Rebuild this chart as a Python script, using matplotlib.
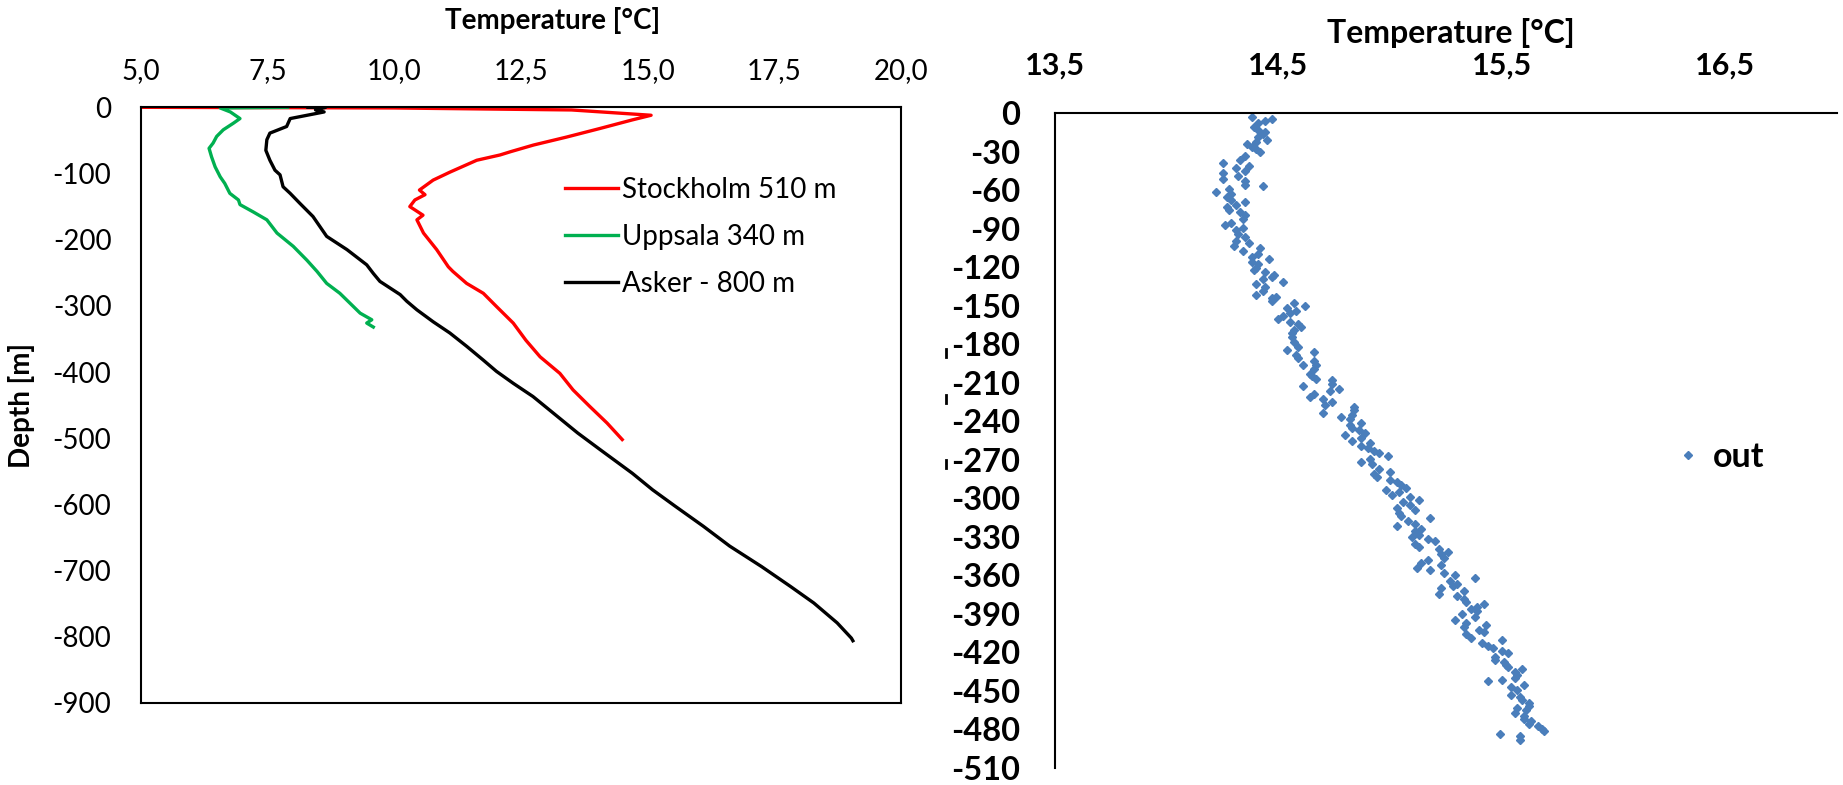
"""Borehole temperature profiles: three wells plus the measured 'out' log."""

import matplotlib.pyplot as plt
from matplotlib.lines import Line2D
from matplotlib.ticker import FixedLocator, FuncFormatter

plt.rcParams['font.family'] = ['Lato', 'DejaVu Sans']
plt.rcParams['axes.unicode_minus'] = False

# Left panel: temperature (°C) against depth (m) for each well
stockholm_t = [5.0, 10.0, 13.5, 15.07, 14.7, 14.06, 13.4, 12.75, 12.3, 12.09,
               11.63, 11.1, 10.77, 10.5, 10.61, 10.41, 10.31, 10.57, 10.45,
               10.58, 10.84, 11.07, 11.16, 11.43, 11.76, 12.02, 12.35, 12.6,
               12.88, 13.27, 13.53, 13.86, 14.2, 14.5]
stockholm_d = [0, -1, -4, -12, -19, -32, -45, -57, -67, -72,
               -80, -98, -110, -125, -132, -140, -150, -163, -170,
               -190, -215, -241, -248, -266, -281, -301, -326, -352,
               -377, -402, -427, -452, -477, -502]

uppsala_t = [7.9, 6.57, 6.77, 6.96, 6.83, 6.63, 6.5, 6.43, 6.35, 6.4, 6.47,
             6.57, 6.66, 6.76, 6.93, 6.96, 7.22, 7.49, 7.69, 8.01, 8.28, 8.48,
             8.67, 8.93, 9.13, 9.33, 9.56, 9.46, 9.59]
uppsala_d = [0, -1, -7, -17, -24, -34, -44, -54, -62, -75, -90,
             -105, -115, -130, -140, -147, -158, -170, -190, -210, -231, -248,
             -266, -281, -296, -311, -321, -326, -332]

asker_t = [8.3, 8.65, 8.45, 8.62, 7.95, 7.88, 7.55, 7.49, 7.47, 7.55, 7.65,
           7.75, 7.81, 7.95, 8.14, 8.4, 8.67, 9.07, 9.46, 9.59, 9.72, 10.12,
           10.25, 10.45, 10.77, 11.1, 11.43, 11.76, 12.02, 12.35, 12.74, 13.3,
           13.62, 14.06, 14.7, 15.1, 15.55, 16.1, 16.62, 17.25, 17.82, 18.28,
           18.74, 19.02, 19.05]
asker_d = [0, 0, -4, -7, -17, -29, -39, -49, -65, -80, -95,
           -102, -120, -130, -145, -165, -195, -215, -238, -251, -263, -283,
           -293, -306, -324, -341, -361, -382, -399, -417, -437, -472,
           -492, -517, -553, -578, -603, -633, -663, -694, -724, -749,
           -779, -802, -806]

# Right panel: logged temperatures of the 'out' borehole
out_t = [14.38, 14.47, 14.44, 14.41, 14.39, 14.41, 14.44, 14.43, 14.41, 14.45,
         14.40, 14.36, 14.38, 14.40, 14.42, 14.35, 14.33, 14.25, 14.37, 14.31,
         14.35, 14.25, 14.32, 14.25, 14.35, 14.35, 14.43, 14.28, 14.22, 14.29,
         14.27, 14.29, 14.35, 14.31, 14.27, 14.28, 14.33, 14.35, 14.34, 14.29,
         14.26, 14.34, 14.31, 14.32, 14.35, 14.31, 14.37, 14.30, 14.42, 14.34,
         14.41, 14.38, 14.46, 14.38, 14.41, 14.40, 14.39, 14.44, 14.48, 14.47,
         14.43, 14.52, 14.40, 14.44, 14.43, 14.40, 14.49, 14.47,
         14.47, 14.57, 14.62, 14.54, 14.58, 14.55, 14.52, 14.50, 14.55, 14.59,
         14.60, 14.57, 14.56, 14.56, 14.57, 14.59, 14.54, 14.66, 14.58, 14.59,
         14.66, 14.61, 14.67, 14.66, 14.64, 14.65, 14.67, 14.74, 14.74, 14.61,
         14.77, 14.73, 14.66, 14.64, 14.70, 14.74, 14.71, 14.84, 14.84, 14.70,
         14.83, 14.78, 14.82, 14.87, 14.82, 14.83, 14.86, 14.89, 14.80, 14.87,
         14.83, 14.91, 14.87, 14.90, 14.93, 14.95, 14.99, 14.91, 14.87, 14.92,
         14.95, 15.00, 14.93, 14.94,
         15.00, 15.03, 15.05, 15.07, 14.98, 15.04, 15.01, 15.09, 15.13, 15.06,
         15.09, 15.03, 15.11, 15.04, 15.05, 15.18, 15.08, 15.11, 15.03, 15.14,
         15.11, 15.13, 15.10, 15.17, 15.20, 15.11, 15.13, 15.22, 15.26, 15.23,
         15.24, 15.17, 15.14, 15.23, 15.12, 15.18, 15.24, 15.29, 15.38, 15.27,
         15.30, 15.28, 15.23, 15.33, 15.22, 15.30, 15.33, 15.34, 15.42, 15.39,
         15.36, 15.39, 15.32, 15.38, 15.29, 15.34, 15.43, 15.33, 15.40, 15.42,
         15.34,
         15.36, 15.50, 15.41, 15.44, 15.46, 15.50, 15.53, 15.47, 15.47, 15.51,
         15.52, 15.53, 15.59, 15.56, 15.57, 15.56, 15.50, 15.44, 15.60, 15.54,
         15.57, 15.54, 15.58, 15.59, 15.62, 15.62, 15.57, 15.61, 15.56, 15.60,
         15.60, 15.63, 15.62, 15.66, 15.68, 15.69, 15.49, 15.58, 15.58]
out_d = [-2.6, -4.4, -6.0, -7.8, -10.4, -12.9, -14.3, -16.3, -18.1, -20.5,
         -22.0, -24.0, -25.9, -27.7, -30.5, -32.9, -36.2, -38.8, -40.9, -42.6,
         -45.3, -46.5, -48.6, -50.9, -53.0, -55.6, -56.9, -58.7, -61.2, -62.8,
         -65.4, -67.2, -69.0, -71.1, -73.2, -75.7, -76.7, -79.4, -82.7, -85.3,
         -87.1, -89.1, -91.2, -93.8, -96.4, -99.5, -100.8, -103.4, -105.2, -107.3,
         -109.8, -111.9, -113.5, -115.5, -117.6, -120.2, -122.0, -123.3, -125.9, -127.4,
         -129.2, -131.8, -133.1, -135.7, -138.8, -141.4, -142.9, -144.0,
         -146.0, -147.8, -149.9, -151.7, -154.0, -155.8, -157.7, -160.2, -162.3, -164.1,
         -166.4, -168.5, -171.3, -174.4, -177.8, -182.2, -184.3, -186.0, -188.1, -190.7,
         -192.6, -196.4, -195.9, -199.5, -202.9, -204.7, -206.7, -208.1, -210.6, -212.4,
         -214.5, -216.6, -218.9, -220.9, -222.2, -224.8, -226.9, -228.7, -231.3, -233.1,
         -234.7, -236.4, -238.5, -240.9, -242.9, -245.5, -246.8, -248.8, -250.7, -252.7,
         -255.3, -256.6, -258.9, -261.0, -263.1, -264.9, -267.0, -269.3, -271.3, -273.4,
         -277.1, -279.1, -280.9, -283.0,
         -285.6, -287.4, -289.5, -292.0, -293.3, -295.1, -297.2, -299.2, -301.6, -303.1,
         -305.4, -307.5, -309.3, -311.4, -314.0, -315.3, -317.4, -319.7, -321.7, -323.6,
         -325.6, -328.2, -330.0, -331.5, -333.3, -335.4, -337.8, -339.3, -341.6, -343.7,
         -346.3, -347.8, -350.2, -351.9, -354.0, -356.1, -358.1, -359.7, -361.8, -364.3,
         -366.4, -368.2, -370.1, -372.1, -374.2, -376.0, -378.1, -380.4, -382.5, -384.5,
         -386.4, -388.1, -390.2, -392.2, -394.6, -396.7, -398.4, -400.5, -402.6, -404.4,
         -405.7,
         -408.8, -410.4, -412.7, -414.7, -416.8, -419.1, -420.7, -423.3, -425.6, -427.1,
         -429.5, -431.6, -432.9, -434.9, -437.2, -439.8, -441.1, -442.6, -445.0, -447.1,
         -449.1, -453.0, -454.8, -456.9, -459.5, -462.0, -463.3, -465.1, -467.2, -469.8,
         -471.6, -473.4, -476.0, -477.5, -479.4, -481.4, -483.3, -485.3, -487.9]

left_xticks = [5.0, 7.5, 10.0, 12.5, 15.0, 17.5, 20.0]
left_yticks = list(range(0, -1000, -100))
right_xticks = [13.5, 14.5, 15.5, 16.5]
right_yticks = list(range(0, -540, -30))


def comma(v, pos=None):
    return '{:.1f}'.format(v).replace('.', ',')


fig = plt.figure(figsize=(18.43, 7.85), dpi=100)

# --- left panel ---
ax = fig.add_axes([0.0763, 0.1045, 0.4126, 0.7588])
ax.plot(stockholm_t, stockholm_d, color='#ff0000', lw=2.4, label='Stockholm 510 m')
ax.plot(uppsala_t, uppsala_d, color='#00b050', lw=2.4, label='Uppsala 340 m')
ax.plot(asker_t, asker_d, color='black', lw=2.4, label='Asker - 800 m')
ax.set_xlim(5, 20)
ax.set_ylim(-900, 0)
ax.xaxis.tick_top()
ax.xaxis.set_major_locator(FixedLocator(left_xticks))
ax.xaxis.set_major_formatter(FuncFormatter(comma))
ax.yaxis.set_major_locator(FixedLocator(left_yticks))
ax.yaxis.set_major_formatter(FuncFormatter(lambda v, p: '{:d}'.format(int(v))))
ax.tick_params(axis='x', length=0, pad=17, labelsize=20)
ax.tick_params(axis='y', length=0, pad=21, labelsize=20)
for s in ax.spines.values():
    s.set_linewidth(1.5)
ax.set_ylabel('Depth [m]', fontsize=20, fontweight='bold')
ax.yaxis.set_label_coords(-0.139, 0.5)
ax.legend(loc='upper left', bbox_to_anchor=(0.525, 0.925), frameon=False,
          fontsize=20, handlelength=1.9, handletextpad=0.15, labelspacing=0.75)
fig.text(0.300, 0.974, 'Temperature [°C]', ha='center', va='center',
         fontsize=20, fontweight='bold')

# --- right panel ---
ax2 = fig.add_axes([0.5724, 0.0217, 0.4243, 0.834])
ax2.plot(out_t, out_d, linestyle='none', marker='D', markersize=4.3,
         color='#4a7ebb', label='out')
ax2.set_xlim(13.5, 17.0)
ax2.set_ylim(-510, 0)
ax2.xaxis.tick_top()
ax2.xaxis.set_major_locator(FixedLocator(right_xticks))
ax2.xaxis.set_major_formatter(FuncFormatter(comma))
ax2.yaxis.set_major_locator(FixedLocator(right_yticks))
ax2.yaxis.set_major_formatter(FuncFormatter(lambda v, p: '{:d}'.format(int(v))))
ax2.tick_params(length=0)
ax2.tick_params(axis='x', pad=24, labelsize=22)
ax2.tick_params(axis='y', pad=25, labelsize=23.5)
for lab in ax2.get_xticklabels() + ax2.get_yticklabels():
    lab.set_fontweight('bold')
ax2.spines['right'].set_visible(False)
ax2.spines['bottom'].set_visible(False)
ax2.spines['top'].set_linewidth(1.5)
ax2.spines['left'].set_linewidth(1.5)
ax2.legend(loc='center left', bbox_to_anchor=(0.757, 0.475), frameon=False,
           handlelength=0.6, handletextpad=0.45,
           prop={'size': 24.5, 'weight': 'bold'})
fig.text(0.787, 0.958, 'Temperature [°C]', ha='center', va='center',
         fontsize=23, fontweight='bold')

# stray tick marks between the panels
for y0 in (0.545, 0.487, 0.404):
    fig.add_artist(Line2D([0.5135, 0.5135], [y0, y0 + 0.01], color='black',
                          lw=2, transform=fig.transFigure))

fig.savefig('out.png', dpi=100)
